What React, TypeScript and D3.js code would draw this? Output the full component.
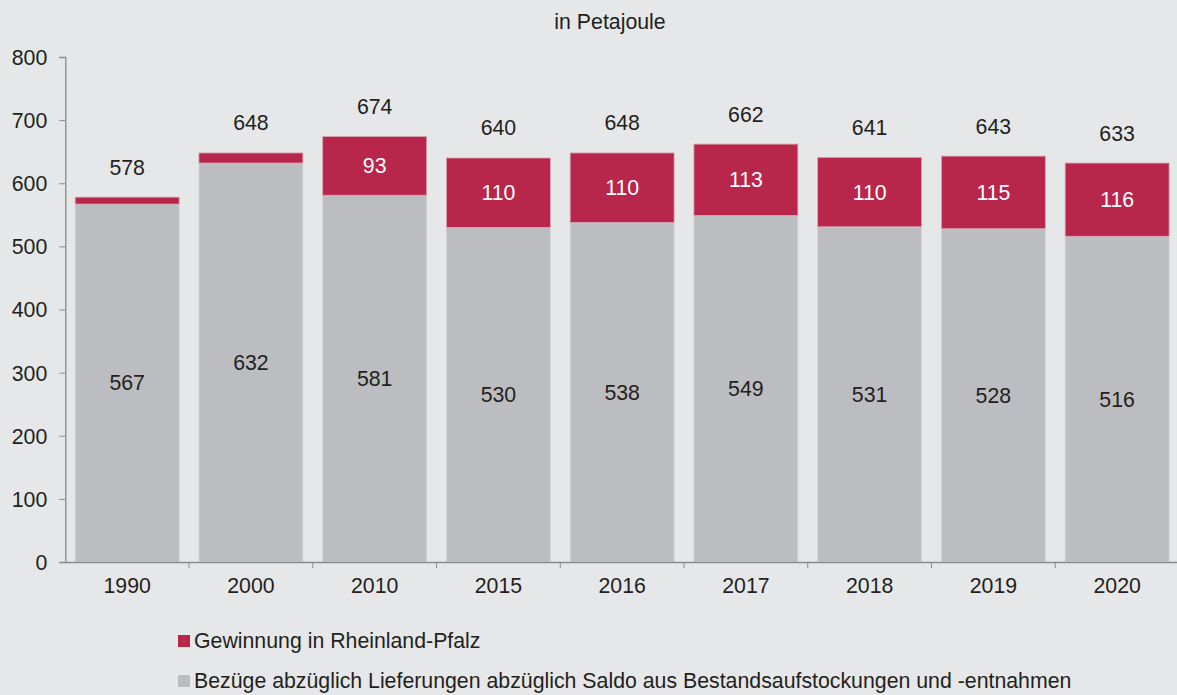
import React, { useEffect, useRef } from "react";
import * as d3 from "d3";

const years = ["1990", "2000", "2010", "2015", "2016", "2017", "2018", "2019", "2020"];
const bezuege = [567, 632, 581, 530, 538, 549, 531, 528, 516];
const gewinnung = [11, 16, 93, 110, 110, 113, 110, 115, 116];
const totals = [578, 648, 674, 640, 648, 662, 641, 643, 633];
const yTicks = [0, 100, 200, 300, 400, 500, 600, 700, 800];
const legendLabels = [
  "Gewinnung in Rheinland-Pfalz",
  "Bezüge abzüglich Lieferungen abzüglich Saldo aus Bestandsaufstockungen und -entnahmen",
];

const width = 1177;
const height = 695;
const bg = "#e6e7e9";
const grey = "#bcbdc0";
const red = "#b8264b";
const font = "'Liberation Sans', Arial, sans-serif";
const fontSize = 21.3;
const textColor = "#231f20";

const App = () => {
  const svgRef = useRef(null);

  useEffect(() => {
    const svg = d3.select(svgRef.current);
    svg.selectAll("*").remove();

    const x = d3.scaleBand().domain(years).range([65.3, 1179]).paddingInner(0.16).paddingOuter(0.08);
    const y = d3.scaleLinear().domain([0, 800]).range([562, 57]);

    svg.append("rect").attr("width", width).attr("height", height).attr("fill", bg);

    // title
    svg
      .append("text")
      .attr("x", 610)
      .attr("y", 29)
      .attr("text-anchor", "middle")
      .attr("font-family", font)
      .attr("font-size", fontSize)
      .attr("fill", textColor)
      .text("in Petajoule");

    const g = svg.append("g");

    // grey segments
    g.selectAll(".grey")
      .data(years)
      .enter()
      .append("rect")
      .attr("x", (d) => x(d))
      .attr("width", x.bandwidth())
      .attr("y", (d, i) => y(bezuege[i]))
      .attr("height", (d, i) => y(0) - y(bezuege[i]))
      .attr("fill", grey)
      .attr("stroke", "#d3d4d6")
      .attr("stroke-width", 1);

    // red segments
    g.selectAll(".red")
      .data(years)
      .enter()
      .append("rect")
      .attr("x", (d) => x(d))
      .attr("width", x.bandwidth())
      .attr("y", (d, i) => y(bezuege[i] + gewinnung[i]))
      .attr("height", (d, i) => y(bezuege[i]) - y(bezuege[i] + gewinnung[i]))
      .attr("fill", red)
      .attr("stroke", "#d7a5b1")
      .attr("stroke-width", 0.8);

    // axes
    const yAxis = svg
      .append("g")
      .attr("transform", "translate(65.3,0)")
      .call(d3.axisLeft(y).tickValues(yTicks).tickSize(6).tickPadding(12));
    const xAxis = svg
      .append("g")
      .attr("transform", `translate(0,${y(0)})`)
      .call(d3.axisBottom(x).tickSize(0).tickPadding(16));

    [yAxis, xAxis].forEach((a) => {
      a.select(".domain").attr("stroke", "#8a8b8d").attr("stroke-width", 1.3);
      a.selectAll(".tick line").attr("stroke", "#8a8b8d");
      a.selectAll("text")
        .attr("font-family", font)
        .attr("font-size", fontSize)
        .attr("fill", textColor);
    });
    yAxis.selectAll("text").attr("dy", "0.35em");

    // category separator ticks on x axis
    svg
      .append("g")
      .selectAll("line")
      .data(years.slice(0, -1))
      .enter()
      .append("line")
      .attr("x1", (d) => x(d) + x.bandwidth() + (x.step() - x.bandwidth()) / 2)
      .attr("x2", (d) => x(d) + x.bandwidth() + (x.step() - x.bandwidth()) / 2)
      .attr("y1", y(0))
      .attr("y2", y(0) + 6)
      .attr("stroke", "#8a8b8d");

    const labels = svg
      .append("g")
      .attr("font-family", font)
      .attr("font-size", fontSize)
      .attr("text-anchor", "middle");

    // grey values
    labels
      .selectAll(".gv")
      .data(years)
      .enter()
      .append("text")
      .attr("x", (d) => x(d) + x.bandwidth() / 2)
      .attr("y", (d, i) => y(bezuege[i] / 2))
      .attr("dy", "0.35em")
      .attr("fill", textColor)
      .text((d, i) => bezuege[i]);

    // red values (only where segment is large enough)
    labels
      .selectAll(".rv")
      .data(years)
      .enter()
      .filter((d, i) => gewinnung[i] > 50)
      .append("text")
      .attr("x", (d) => x(d) + x.bandwidth() / 2)
      .attr("y", (d) => {
        const i = years.indexOf(d);
        return y(bezuege[i] + gewinnung[i] / 2);
      })
      .attr("dy", "0.35em")
      .attr("fill", "#ffffff")
      .text((d) => gewinnung[years.indexOf(d)]);

    // totals
    labels
      .selectAll(".tv")
      .data(years)
      .enter()
      .append("text")
      .attr("x", (d) => x(d) + x.bandwidth() / 2)
      .attr("y", (d, i) => y(bezuege[i] + gewinnung[i]) - 30)
      .attr("dy", "0.35em")
      .attr("fill", textColor)
      .text((d, i) => totals[i]);

    // legend
    const legend = svg.append("g");
    [red, grey].forEach((c, i) => {
      const ly = 641 + i * 40;
      legend
        .append("rect")
        .attr("x", 178)
        .attr("y", ly - 6)
        .attr("width", 12)
        .attr("height", 12)
        .attr("fill", c);
      legend
        .append("text")
        .attr("x", 194)
        .attr("y", ly)
        .attr("dy", "0.35em")
        .attr("font-family", font)
        .attr("font-size", fontSize)
        .attr("fill", textColor)
        .text(legendLabels[i]);
    });
  }, []);

  return (
    <svg
      ref={svgRef}
      width={width}
      height={height}
      style={{ position: "absolute", left: 0, top: 0, display: "block" }}
    ></svg>
  );
};

export default App;
